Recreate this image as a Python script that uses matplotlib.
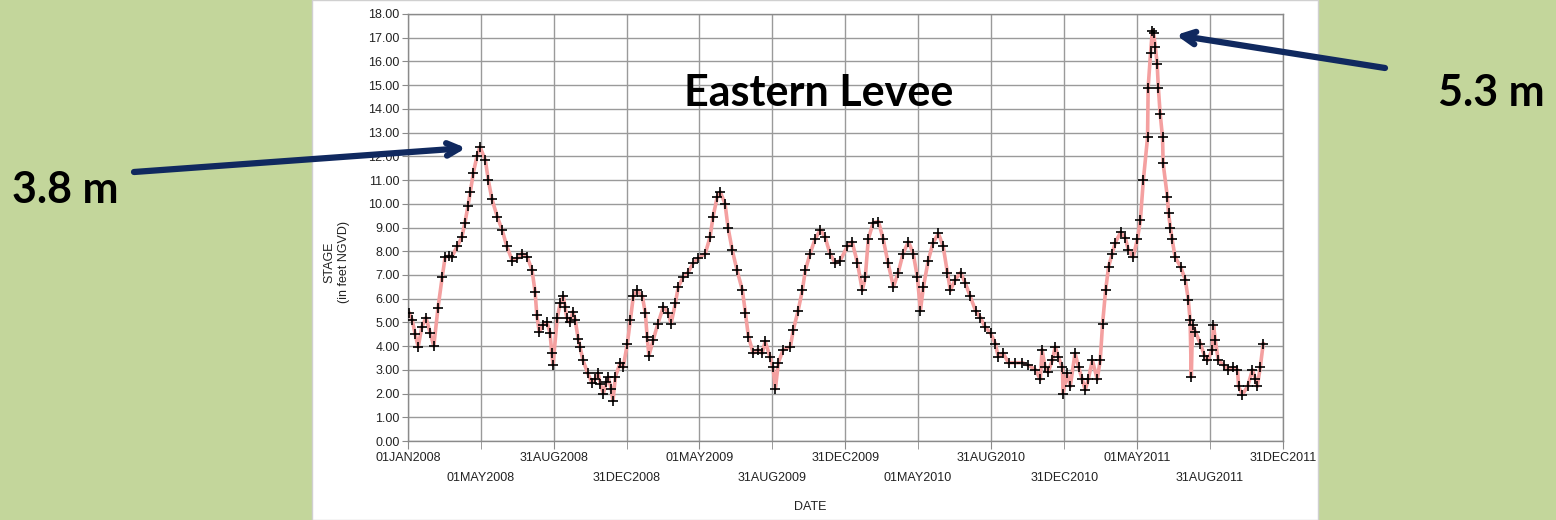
import matplotlib

matplotlib.use("Agg")
import matplotlib.pyplot as plt
import numpy as np
import pandas as pd
from matplotlib.patches import Rectangle

# stage readings, days counted from 01JAN2008
day_offset = [
    2, 7, 12, 17, 23, 30, 37, 43, 50, 57, 62, 68, 73, 82, 90, 95, 100, 104, 109, 115,
    120, 129, 134, 140, 149, 157, 165, 174, 182, 190, 199, 207, 212, 215, 219, 225,
    232, 237, 240, 242, 249, 254, 259, 262, 265, 270, 275, 279, 284, 287, 292, 300,
    307, 312, 317, 321, 326, 331, 334, 339, 342, 346, 354, 359, 366, 371, 376, 382,
    391, 396, 399, 402, 409, 417, 426, 434, 439, 446, 451, 459, 467, 476, 484, 496,
    504, 509, 516, 521, 529, 534, 541, 549, 558, 563, 568, 576, 584, 591, 596, 604,
    609, 613, 618, 626, 638, 643, 651, 658, 663, 671, 679, 688, 696, 704, 713, 721,
    733, 741, 750, 758, 763, 768, 776, 785, 793, 801, 810, 818, 826, 835, 843, 850,
    855, 860, 868, 876, 885, 893, 900, 905, 913, 922, 930, 938, 947, 955, 963, 972,
    980, 985, 993, 1002, 1013, 1025, 1035, 1047, 1055, 1058, 1063, 1068, 1075, 1080,
    1085, 1092, 1093, 1100, 1105, 1113, 1119, 1125, 1130, 1135, 1142, 1150, 1155,
    1159, 1164, 1169, 1175, 1180, 1189, 1197, 1202, 1210, 1217, 1222, 1227, 1234,
    1235, 1239, 1242, 1244, 1247, 1250, 1252, 1255, 1259, 1260, 1267, 1269, 1272,
    1275, 1280, 1289, 1297, 1302, 1305, 1307, 1309, 1314, 1322, 1329, 1334, 1342,
    1344, 1347, 1352, 1361, 1369, 1377, 1384, 1386, 1392, 1401, 1409, 1414, 1417,
    1422, 1427,
]
stage_ft = [
    5.4, 5.1, 4.5, 3.96, 4.8, 5.2, 4.55, 4.0, 5.6, 6.9, 7.75, 7.8, 7.75, 8.2, 8.6, 9.2, 9.9, 10.5, 11.3, 12.0,
    12.4, 11.85, 11.0, 10.2, 9.45, 8.9, 8.2, 7.6, 7.7, 7.9, 7.75, 7.2, 6.3, 5.3, 4.6, 4.9,
    5.0, 4.55, 3.7, 3.2, 5.2, 5.8, 6.1, 5.65, 5.2, 5.0, 5.45, 5.1, 4.3, 3.97, 3.4, 2.85,
    2.45, 2.6, 2.85, 2.4, 2.0, 2.5, 2.7, 2.2, 1.7, 2.7, 3.3, 3.1, 4.1, 5.1, 6.1, 6.35,
    6.1, 5.4, 4.4, 3.6, 4.25, 4.95, 5.65, 5.4, 4.95, 5.8, 6.5, 6.9, 7.1, 7.5, 7.7, 7.9,
    8.6, 9.45, 10.3, 10.5, 10.0, 9.0, 8.05, 7.2, 6.35, 5.4, 4.4, 3.7, 3.85, 3.7, 4.2, 3.55,
    3.1, 2.2, 3.3, 3.85, 3.97, 4.7, 5.5, 6.35, 7.2, 7.9, 8.5, 8.9, 8.6, 7.9, 7.5, 7.6,
    8.2, 8.4, 7.5, 6.35, 6.9, 8.5, 9.2, 9.25, 8.5, 7.5, 6.5, 7.1, 7.9, 8.4, 7.9, 6.9,
    5.5, 6.5, 7.6, 8.35, 8.75, 8.2, 7.1, 6.35, 6.8, 7.1, 6.65, 6.1, 5.5, 5.2, 4.8, 4.55,
    4.1, 3.55, 3.7, 3.3, 3.3, 3.3, 3.2, 3.0, 2.6, 3.85, 3.1, 2.9, 3.4, 3.97,
    3.55, 3.1, 2.0, 2.85, 2.3, 3.7, 3.1, 2.6, 2.15, 2.6, 3.4, 2.6, 3.4,
    4.95, 6.35, 7.35, 7.9, 8.35, 8.8, 8.55, 8.05, 7.75, 8.5, 9.3, 11.0, 12.8,
    14.9, 16.35, 17.3, 17.2, 16.6, 15.9, 14.9, 13.8, 12.8, 11.7, 10.3, 9.6, 9.0,
    8.5, 7.75, 7.35, 6.8, 5.95, 5.1, 2.7, 4.9, 4.6, 4.1, 3.6, 3.4, 3.85,
    4.9, 4.25, 3.4, 3.2, 3.0, 3.1, 3.0, 2.3, 1.95, 2.3, 3.0, 2.6, 2.3,
    3.1, 4.1,
]
tick_labels = [
    "01JAN2008", "01MAY2008", "31AUG2008", "31DEC2008", "01MAY2009", "31AUG2009",
    "31DEC2009", "01MAY2010", "31AUG2010", "31DEC2010", "01MAY2011", "31AUG2011",
    "31DEC2011",
]
y_ticks = list(range(0, 19))

GREEN = "#c3d69b"
NAVY = "#10295f"
GRID = "#9a9a9a"

dates = np.datetime64("2008-01-01") + np.array(day_offset).astype("timedelta64[D]")
tick_dates = pd.to_datetime(tick_labels, format="%d%b%Y")

fig = plt.figure(figsize=(15.56, 5.2), dpi=100, facecolor=GREEN)
panel = Rectangle((312 / 1556, 0), (1318 - 312) / 1556, 1, transform=fig.transFigure,
                  facecolor="white", edgecolor="#d0d0d0", lw=1, zorder=-10)
fig.add_artist(panel)

ax = fig.add_axes([408 / 1556, 1 - 441 / 520, (1283 - 408) / 1556, (441 - 14) / 520])
ax.set_facecolor("white")
ax.plot(dates, stage_ft, color="#f4a0a0", lw=2.6, zorder=3)
ax.plot(dates, stage_ft, ls="none", marker="+", ms=6.5, mew=1.2, color="black", zorder=4)

ax.set_ylim(0, 18)
ax.set_yticks(y_ticks)
ax.set_yticklabels([f"{v:.2f}" for v in y_ticks])
ax.set_xlim(tick_dates[0], tick_dates[-1])

# staggered date labels: even ones on the first row, odd ones on the second
ax.set_xticks(tick_dates[::2])
ax.set_xticklabels(tick_labels[::2])
ax.set_xticks(tick_dates[1::2], minor=True)
ax.set_xticklabels(tick_labels[1::2], minor=True)

for sp in ax.spines.values():
    sp.set_color("#8a8a8a")
    sp.set_linewidth(1.0)
ax.grid(True, which="both", color=GRID, lw=1.0)
ax.set_axisbelow(True)
ax.tick_params(axis="x", which="major", length=6, color="#8a8a8a", pad=2,
               labelsize=9, labelcolor="#222222")
ax.tick_params(axis="x", which="minor", length=6, color="#8a8a8a", pad=16,
               labelsize=9, labelcolor="#222222")
ax.tick_params(axis="y", length=4, color="#8a8a8a", pad=2, labelsize=9,
               labelcolor="#222222")
for lbl in ax.get_xticklabels(which="both") + ax.get_yticklabels():
    lbl.set_fontfamily("Liberation Sans")

fig.text(337 / 1556, 1 - 262 / 520, "STAGE\n(in feet NGVD)", rotation=90,
         ha="center", va="center", fontsize=9, family="Liberation Sans",
         color="#222222", linespacing=1.3)
fig.text(810 / 1556, 1 - 507 / 520, "DATE", ha="center", va="center",
         fontsize=9, family="Liberation Sans", color="#222222")

fig.text(819 / 1556, 1 - 93 / 520, "Eastern Levee", ha="center", va="center",
         fontsize=31, fontweight="bold", family="Lato", color="black")
fig.text(65 / 1556, 1 - 190 / 520, "3.8 m", ha="center", va="center",
         fontsize=31, fontweight="bold", family="Lato", color="black")
fig.text(1491 / 1556, 1 - 93 / 520, "5.3 m", ha="center", va="center",
         fontsize=31, fontweight="bold", family="Lato", color="black")

arrow = dict(arrowstyle="->,head_length=0.9,head_width=0.45", color=NAVY, lw=4.5,
             shrinkA=0, shrinkB=0)
fig.add_artist(plt.Annotation("", xy=(466 / 1556, 1 - 148 / 520), xycoords="figure fraction",
                              xytext=(134 / 1556, 1 - 172 / 520), textcoords="figure fraction",
                              arrowprops=arrow, zorder=6))
fig.add_artist(plt.Annotation("", xy=(1176 / 1556, 1 - 35 / 520), xycoords="figure fraction",
                              xytext=(1385 / 1556, 1 - 68 / 520), textcoords="figure fraction",
                              arrowprops=arrow, zorder=6))

fig.savefig("out.png", dpi=100, facecolor=GREEN)
